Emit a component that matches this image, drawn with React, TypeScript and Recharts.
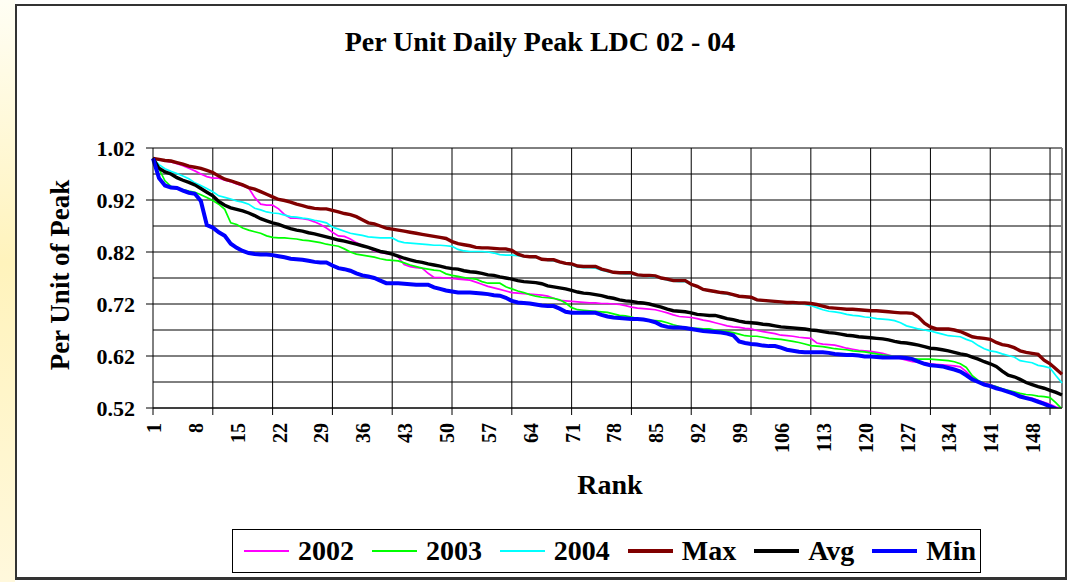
import React from 'react';
import { LineChart, Line, XAxis, YAxis, CartesianGrid, ReferenceLine, Legend } from 'recharts';

// rank 1..153 (days sorted by peak)
const ranks: number[] = Array.from({ length: 153 }, (_, i) => i + 1);

const y2002 = [
  1.0, 0.997, 0.995, 0.993, 0.99, 0.986, 0.981, 0.976, 0.97, 0.965, 0.962, 0.962, 0.958, 0.955, 0.951, 0.947, 0.943, 0.925, 0.912, 0.91,
  0.91, 0.903, 0.892, 0.885, 0.885, 0.884, 0.882, 0.878, 0.873, 0.866, 0.858, 0.851, 0.85, 0.845, 0.838, 0.833, 0.828, 0.822, 0.819, 0.817,
  0.816, 0.81, 0.796, 0.792, 0.79, 0.789, 0.779, 0.771, 0.771, 0.77, 0.769, 0.768, 0.767, 0.766, 0.762, 0.758, 0.754, 0.751, 0.748, 0.745,
  0.742, 0.741, 0.74, 0.739, 0.738, 0.737, 0.735, 0.731, 0.727, 0.726, 0.725, 0.724, 0.723, 0.722, 0.722, 0.721, 0.721, 0.72, 0.719, 0.717,
  0.714, 0.712, 0.711, 0.71, 0.709, 0.706, 0.703, 0.699, 0.696, 0.695, 0.694, 0.692, 0.689, 0.687, 0.684, 0.681, 0.678, 0.676, 0.675, 0.673,
  0.672, 0.669, 0.667, 0.665, 0.663, 0.66, 0.659, 0.658, 0.656, 0.655, 0.654, 0.645, 0.643, 0.642, 0.641, 0.638, 0.635, 0.633, 0.631, 0.63,
  0.629, 0.627, 0.625, 0.622, 0.619, 0.615, 0.612, 0.609, 0.608, 0.607, 0.605, 0.604, 0.603, 0.602, 0.601, 0.599, 0.59, 0.578, 0.571, 0.568,
  0.565, 0.561, 0.556, 0.551, 0.548, 0.545, 0.541, 0.539, 0.535, 0.531, 0.527, 0.522, 0.518,
];

const y2003 = [
  1.0, 0.98, 0.957, 0.946, 0.942, 0.94, 0.937, 0.935, 0.93, 0.925, 0.919, 0.912, 0.902, 0.876, 0.873, 0.866, 0.862, 0.859, 0.856, 0.851,
  0.848, 0.847, 0.847, 0.846, 0.845, 0.843, 0.842, 0.84, 0.838, 0.835, 0.833, 0.831, 0.826, 0.82, 0.816, 0.814, 0.812, 0.81, 0.807, 0.805,
  0.804, 0.803, 0.799, 0.795, 0.792, 0.789, 0.787, 0.785, 0.784, 0.778, 0.775, 0.773, 0.771, 0.769, 0.768, 0.763, 0.76, 0.76, 0.76, 0.753,
  0.749, 0.745, 0.742, 0.738, 0.735, 0.733, 0.732, 0.731, 0.728, 0.722, 0.713, 0.709, 0.708, 0.707, 0.706, 0.705, 0.704, 0.701, 0.698, 0.697,
  0.695, 0.692, 0.69, 0.688, 0.688, 0.687, 0.684, 0.68, 0.677, 0.675, 0.673, 0.673, 0.672, 0.672, 0.67, 0.669, 0.667, 0.665, 0.662, 0.659,
  0.658, 0.658, 0.656, 0.654, 0.653, 0.652, 0.65, 0.648, 0.646, 0.643, 0.64, 0.639, 0.638, 0.636, 0.634, 0.633, 0.632, 0.63, 0.629, 0.628,
  0.626, 0.624, 0.622, 0.621, 0.619, 0.617, 0.616, 0.615, 0.614, 0.614, 0.614, 0.613, 0.612, 0.611, 0.609, 0.605, 0.598, 0.582, 0.573, 0.567,
  0.564, 0.561, 0.557, 0.554, 0.551, 0.548, 0.546, 0.545, 0.543, 0.542, 0.54, 0.53, 0.518,
];

const y2004 = [
  1.0, 0.988, 0.98, 0.975, 0.971, 0.966, 0.961, 0.953, 0.948, 0.942, 0.936, 0.928, 0.925, 0.922, 0.918, 0.916, 0.912, 0.904, 0.901, 0.897,
  0.895, 0.894, 0.891, 0.888, 0.887, 0.885, 0.884, 0.881, 0.879, 0.876, 0.868, 0.864, 0.86, 0.856, 0.854, 0.852, 0.849, 0.848, 0.847, 0.847,
  0.847, 0.841, 0.838, 0.837, 0.836, 0.835, 0.834, 0.833, 0.833, 0.832, 0.831, 0.825, 0.822, 0.821, 0.821, 0.821, 0.82, 0.818, 0.815, 0.814,
  0.814, 0.813, 0.811, 0.81, 0.809, 0.807, 0.804, 0.803, 0.8, 0.797, 0.795, 0.791, 0.79, 0.79, 0.789, 0.785, 0.782, 0.78, 0.779, 0.778,
  0.778, 0.775, 0.774, 0.773, 0.772, 0.769, 0.766, 0.764, 0.763, 0.763, 0.757, 0.753, 0.747, 0.745, 0.743, 0.741, 0.739, 0.737, 0.734, 0.733,
  0.731, 0.727, 0.726, 0.725, 0.724, 0.723, 0.722, 0.721, 0.72, 0.719, 0.717, 0.713, 0.709, 0.706, 0.705, 0.703, 0.7, 0.698, 0.697, 0.695,
  0.694, 0.692, 0.691, 0.69, 0.688, 0.684, 0.678, 0.675, 0.672, 0.67, 0.668, 0.665, 0.662, 0.659, 0.658, 0.657, 0.652, 0.648, 0.64, 0.634,
  0.63, 0.628, 0.624, 0.621, 0.618, 0.611, 0.609, 0.607, 0.602, 0.6, 0.597, 0.582, 0.568,
];

const maxPu = [
  1.0, 0.998, 0.996, 0.995, 0.992, 0.989, 0.985, 0.983, 0.981, 0.977, 0.973, 0.966, 0.96, 0.957, 0.953, 0.949, 0.944, 0.941, 0.936, 0.931,
  0.926, 0.921, 0.919, 0.916, 0.912, 0.909, 0.906, 0.904, 0.903, 0.903, 0.9, 0.897, 0.894, 0.892, 0.888, 0.882, 0.876, 0.874, 0.87, 0.866,
  0.864, 0.862, 0.86, 0.858, 0.856, 0.854, 0.852, 0.85, 0.848, 0.846, 0.84, 0.836, 0.834, 0.832, 0.829, 0.828, 0.828, 0.827, 0.826, 0.826,
  0.823, 0.816, 0.812, 0.811, 0.811, 0.806, 0.805, 0.805, 0.801, 0.798, 0.797, 0.793, 0.792, 0.792, 0.792, 0.787, 0.784, 0.781, 0.78, 0.78,
  0.78, 0.776, 0.775, 0.775, 0.774, 0.77, 0.768, 0.765, 0.765, 0.765, 0.758, 0.754, 0.748, 0.746, 0.744, 0.742, 0.741, 0.738, 0.735, 0.734,
  0.733, 0.728, 0.727, 0.726, 0.725, 0.724, 0.723, 0.723, 0.722, 0.722, 0.721, 0.719, 0.716, 0.713, 0.712, 0.711, 0.71, 0.71, 0.709, 0.708,
  0.707, 0.707, 0.706, 0.705, 0.704, 0.703, 0.703, 0.702, 0.695, 0.683, 0.676, 0.672, 0.672, 0.672, 0.67, 0.667, 0.662, 0.657, 0.655, 0.654,
  0.652, 0.646, 0.642, 0.64, 0.636, 0.63, 0.627, 0.625, 0.623, 0.612, 0.605, 0.595, 0.585,
];

const avgPu = [
  1.0, 0.981, 0.974, 0.97, 0.963, 0.958, 0.954, 0.949, 0.942, 0.935, 0.928, 0.917, 0.91, 0.905, 0.902, 0.899, 0.895, 0.89, 0.884, 0.88,
  0.876, 0.873, 0.869, 0.865, 0.862, 0.86, 0.857, 0.855, 0.852, 0.849, 0.846, 0.843, 0.841, 0.838, 0.835, 0.832, 0.829, 0.825, 0.821, 0.819,
  0.816, 0.812, 0.808, 0.805, 0.802, 0.8, 0.797, 0.795, 0.793, 0.79, 0.788, 0.787, 0.784, 0.782, 0.781, 0.779, 0.776, 0.775, 0.772, 0.77,
  0.768, 0.765, 0.763, 0.762, 0.761, 0.759, 0.755, 0.753, 0.751, 0.749, 0.746, 0.743, 0.741, 0.74, 0.738, 0.736, 0.733, 0.731, 0.728, 0.726,
  0.725, 0.723, 0.722, 0.72, 0.717, 0.714, 0.71, 0.707, 0.706, 0.705, 0.703, 0.7, 0.699, 0.698, 0.698, 0.695, 0.692, 0.69, 0.687, 0.685,
  0.684, 0.683, 0.681, 0.68, 0.678, 0.676, 0.675, 0.674, 0.673, 0.672, 0.67, 0.669, 0.667, 0.665, 0.664, 0.662, 0.66, 0.659, 0.657, 0.656,
  0.655, 0.654, 0.653, 0.651, 0.648, 0.646, 0.645, 0.643, 0.641, 0.638, 0.635, 0.634, 0.632, 0.63, 0.627, 0.624, 0.622, 0.618, 0.614, 0.609,
  0.605, 0.6, 0.591, 0.583, 0.58, 0.575, 0.569, 0.565, 0.561, 0.558, 0.554, 0.55, 0.545,
];

const minPu = [
  1.0, 0.962, 0.948, 0.944, 0.943, 0.938, 0.934, 0.932, 0.918, 0.872, 0.867, 0.858, 0.851, 0.836, 0.828, 0.822, 0.818, 0.816, 0.815, 0.815,
  0.814, 0.812, 0.81, 0.807, 0.806, 0.805, 0.803, 0.801, 0.8, 0.8, 0.794, 0.789, 0.787, 0.784, 0.779, 0.775, 0.773, 0.77, 0.765, 0.76,
  0.76, 0.76, 0.759, 0.758, 0.757, 0.757, 0.757, 0.752, 0.749, 0.746, 0.744, 0.742, 0.742, 0.742, 0.741, 0.74, 0.739, 0.737, 0.736, 0.732,
  0.726, 0.723, 0.722, 0.721, 0.719, 0.717, 0.716, 0.716, 0.711, 0.705, 0.703, 0.703, 0.703, 0.703, 0.703, 0.699, 0.696, 0.694, 0.693, 0.692,
  0.691, 0.691, 0.69, 0.688, 0.685, 0.679, 0.676, 0.675, 0.675, 0.674, 0.672, 0.67, 0.668, 0.667, 0.666, 0.665, 0.663, 0.66, 0.648, 0.645,
  0.643, 0.642, 0.64, 0.639, 0.639, 0.636, 0.632, 0.63, 0.628, 0.627, 0.627, 0.627, 0.627, 0.626, 0.624, 0.623, 0.622, 0.622, 0.621, 0.619,
  0.619, 0.618, 0.617, 0.617, 0.617, 0.617, 0.616, 0.614, 0.609, 0.605, 0.602, 0.601, 0.6, 0.597, 0.594, 0.59, 0.583, 0.575, 0.57, 0.565,
  0.562, 0.558, 0.555, 0.551, 0.547, 0.542, 0.539, 0.536, 0.532, 0.528, 0.523, 0.518, 0.514,
];

const xLabelRanks = [1, 8, 15, 22, 29, 36, 43, 50, 57, 64, 71, 78, 85, 92, 99, 106, 113, 120, 127, 134, 141, 148];
const xGridRanks = [1, 11, 21, 31, 41, 51, 61, 71, 81, 91, 101, 111, 121, 131, 141, 151];
const yTicks = [0.52, 0.57, 0.62, 0.67, 0.72, 0.77, 0.82, 0.87, 0.92, 0.97, 1.02];
const yMajor = [0.52, 0.62, 0.72, 0.82, 0.92, 1.02];

const series = [
  { key: 'y2002', name: '2002', color: '#FF00FF', width: 1.7 },
  { key: 'y2003', name: '2003', color: '#00FF00', width: 1.7 },
  { key: 'y2004', name: '2004', color: '#00FFFF', width: 1.7 },
  { key: 'max', name: 'Max', color: '#800000', width: 3.4 },
  { key: 'avg', name: 'Avg', color: '#000000', width: 3.4 },
  { key: 'min', name: 'Min', color: '#0000FF', width: 4 },
];

const data = ranks.map((r, i) => ({
  rank: r,
  y2002: y2002[i],
  y2003: y2003[i],
  y2004: y2004[i],
  max: maxPu[i],
  avg: avgPu[i],
  min: minPu[i],
}));

const FONT = '"Liberation Serif", "Times New Roman", serif';

const XTick = (props: any) => {
  const { x, y, payload } = props;
  const v = payload.value;
  return (
    <g>
      {xGridRanks.includes(v) && <line x1={x} x2={x} y1={y - 7} y2={y} stroke="#000" />}
      {xLabelRanks.includes(v) && (
        <text
          x={x + 1}
          y={y + 8}
          transform={`rotate(-90 ${x + 1} ${y + 8})`}
          textAnchor="end"
          dominantBaseline="central"
          fontFamily={FONT}
          fontWeight="bold"
          fontSize={20}
          fill="#000"
        >
          {v}
        </text>
      )}
    </g>
  );
};

const YTick = (props: any) => {
  const { x, y, payload } = props;
  const major = yMajor.some((t) => Math.abs(t - payload.value) < 1e-6);
  if (!major) return <g />;
  return (
    <g>
      <line x1={x} x2={x + 7} y1={y} y2={y} stroke="#000" />
      <text x={x - 11} y={y} textAnchor="end" dominantBaseline="central" fontFamily={FONT} fontWeight="bold" fontSize={22} fill="#000">
        {payload.value.toFixed(2)}
      </text>
    </g>
  );
};

const LegendBox = () => (
  <div
    style={{
      width: 749,
      height: 44,
      boxSizing: 'border-box',
      border: '1px solid #000',
      background: '#fff',
      display: 'flex',
      alignItems: 'center',
      justifyContent: 'space-between',
      padding: '0 4px 0 11px',
      fontFamily: FONT,
      fontWeight: 'bold',
      fontSize: 28,
      color: '#000',
    }}
  >
    {series.map((s) => (
      <div key={s.key} style={{ display: 'flex', alignItems: 'center' }}>
        <svg width={45} height={10} style={{ marginRight: 9 }}>
          <line x1={0} x2={45} y1={5} y2={5} stroke={s.color} strokeWidth={s.width > 2 ? 4 : 2} />
        </svg>
        <span>{s.name}</span>
      </div>
    ))}
  </div>
);

export default function App() {
  return (
    <div style={{ position: 'absolute', left: 0, top: 0, width: 1067, height: 582, background: '#fff', overflow: 'hidden' }}>
      <div
        style={{
          position: 'absolute',
          left: 0,
          top: 0,
          width: 15,
          height: 582,
          background: 'linear-gradient(to bottom, #fffef4 0%, #fff3bc 45%, #fff8dc 100%)',
        }}
      />
      <div
        style={{
          position: 'absolute',
          left: 15,
          top: 4,
          width: 1052,
          height: 576,
          boxSizing: 'border-box',
          borderLeft: '2px solid #333',
          borderTop: '2px solid #333',
          borderRight: '2px solid #333',
          borderBottom: '3px solid #333',
        }}
      />
      <div
        style={{
          position: 'absolute',
          left: 0,
          width: 1080,
          top: 24,
          textAlign: 'center',
          fontFamily: FONT,
          fontWeight: 'bold',
          fontSize: 28,
          lineHeight: '36px',
        }}
      >
        Per Unit Daily Peak LDC 02 - 04
      </div>
      <div
        style={{
          position: 'absolute',
          left: 60,
          top: 275,
          transform: 'translate(-50%, -50%) rotate(-90deg)',
          whiteSpace: 'nowrap',
          fontFamily: FONT,
          fontWeight: 'bold',
          fontSize: 27,
        }}
      >
        Per Unit of Peak
      </div>
      <div
        style={{
          position: 'absolute',
          left: 610,
          top: 485,
          transform: 'translate(-50%, -50%)',
          fontFamily: FONT,
          fontWeight: 'bold',
          fontSize: 28,
        }}
      >
        Rank
      </div>
      <div style={{ position: 'absolute', left: 0, top: 0 }}>
        <LineChart width={1067} height={582} data={data} margin={{ top: 148, right: 5, left: 0, bottom: 114 }}>
          <CartesianGrid vertical={false} stroke="#000" />
          {xGridRanks.slice(1).map((r) => (
            <ReferenceLine key={r} x={r} stroke="#000" />
          ))}
          <ReferenceLine x={153} stroke="#808080" strokeWidth={2} />
          <XAxis
            dataKey="rank"
            type="category"
            ticks={[...new Set([...xLabelRanks, ...xGridRanks])].sort((a, b) => a - b)}
            interval={0}
            tick={<XTick />}
            tickLine={false}
            tickSize={7}
            tickMargin={0}
            height={60}
            axisLine={{ stroke: '#000' }}
          />
          <YAxis
            type="number"
            domain={[0.52, 1.02]}
            ticks={yTicks}
            allowDataOverflow
            width={153}
            tick={<YTick />}
            tickLine={false}
            tickSize={7}
            tickMargin={0}
            axisLine={{ stroke: '#000' }}
          />
          <Legend
            layout="horizontal"
            verticalAlign="middle"
            align="center"
            content={() => <LegendBox />}
            wrapperStyle={{ left: 232, top: 529, width: 749, height: 44 }}
          />
          {series.map((s) => (
            <Line
              key={s.key}
              type="linear"
              dataKey={s.key}
              name={s.name}
              stroke={s.color}
              strokeWidth={s.width}
              dot={false}
              isAnimationActive={false}
            />
          ))}
        </LineChart>
      </div>
    </div>
  );
}
